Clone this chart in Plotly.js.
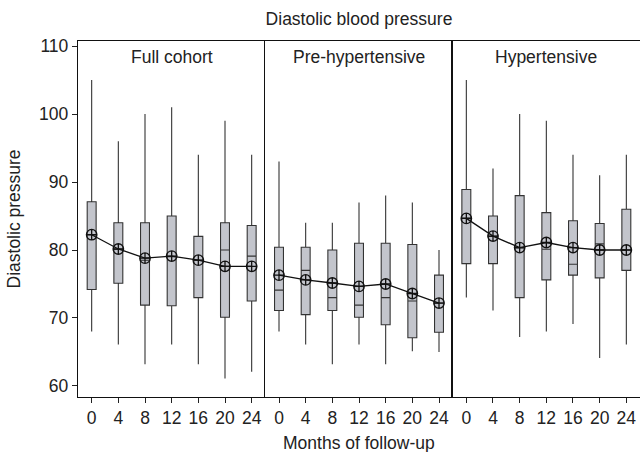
<!DOCTYPE html>
<html>
<head>
<meta charset="utf-8">
<script src="https://cdn.plot.ly/plotly-3.0.1.min.js"></script>
<style>html,body{margin:0;padding:0;background:#fff;}#chart{width:640px;height:452px;}</style>
</head>
<body>
<div id="chart"></div>
<script>
// Data
const months = [0, 4, 8, 12, 16, 20, 24];
const tickLabels = ["0", "4", "8", "12", "16", "20", "24"];
const panelNames = ["Full cohort", "Pre-hypertensive", "Hypertensive"];

// Full cohort
const fullLow    = [68, 66.1, 63.2, 66.1, 63.2, 61.1, 62.1];
const fullQ1     = [74.2, 75.1, 71.9, 71.8, 73, 70.1, 72.5];
const fullMedian = [82.2, 80.1, 78.5, 79, 78.5, 80, 79.1];
const fullQ3     = [87.1, 84, 84, 85, 82, 84, 83.6];
const fullHigh   = [105, 96, 100, 101, 94, 99, 94];
const fullMean   = [82.25, 80.15, 78.8, 79.1, 78.5, 77.6, 77.6];

// Pre-hypertensive
const preLow    = [68, 66.1, 63.2, 66.1, 63.2, 65.1, 65];
const preQ1     = [71.1, 70.5, 71.1, 70.1, 69, 67.1, 67.9];
const preMedian = [74.1, 77, 73, 71.9, 73, 72.5, 72.2];
const preQ3     = [80.4, 80.4, 80, 81, 81, 80.8, 76.3];
const preHigh   = [93, 84, 84, 87, 88, 87, 80];
const preMean   = [76.3, 75.6, 75.15, 74.65, 75, 73.6, 72.2];

// Hypertensive
const hypLow    = [73, 71.1, 67.2, 68, 69.1, 64.1, 66.1];
const hypQ1     = [78, 78, 73, 75.6, 76.3, 75.9, 77];
const hypMedian = [84.7, 82, 80.3, 80.1, 77.9, 80.9, 80];
const hypQ3     = [88.9, 85, 88, 85.5, 84.3, 83.9, 86];
const hypHigh   = [105, 92, 100, 99, 94, 91, 94];
const hypMean   = [84.65, 82.05, 80.35, 81.1, 80.35, 80, 80];

const groups = [
  {low: fullLow, q1: fullQ1, med: fullMedian, q3: fullQ3, high: fullHigh, mean: fullMean},
  {low: preLow, q1: preQ1, med: preMedian, q3: preQ3, high: preHigh, mean: preMean},
  {low: hypLow, q1: hypQ1, med: hypMedian, q3: hypQ3, high: hypHigh, mean: hypMean}
];

const FONT = "Liberation Sans, Arial, Helvetica, sans-serif";
const FS = 17.5;
const TXT = '#222';
const traces = [];
groups.forEach((g, i) => {
  const xa = i === 0 ? 'x' : 'x' + (i + 1);
  const ya = i === 0 ? 'y' : 'y' + (i + 1);
  traces.push({
    type: 'box', x: months, q1: g.q1, median: g.med, q3: g.q3,
    lowerfence: g.low, upperfence: g.high,
    xaxis: xa, yaxis: ya, width: 1.34, whiskerwidth: 0,
    boxpoints: false, fillcolor: '#c3c5cc',
    line: {color: '#333', width: 1.1}, showlegend: false, hoverinfo: 'skip'
  });
  traces.push({
    type: 'scatter', mode: 'lines+markers', x: months, y: g.mean,
    xaxis: xa, yaxis: ya,
    line: {color: '#111', width: 1.3},
    marker: {symbol: 'circle-cross-open', size: 10.5, color: '#111', line: {width: 1.3}},
    showlegend: false, hoverinfo: 'skip'
  });
});

const yRange = [58.38, 110.74];
const xRange = [-2.05, 26.05];
const layout = {
  width: 640, height: 452,
  margin: {l: 78, r: 0, t: 41, b: 55},
  paper_bgcolor: '#fff', plot_bgcolor: '#fff',
  font: {family: FONT, size: FS, color: TXT},
  title: {text: 'Diastolic blood pressure', font: {family: FONT, size: FS, color: TXT},
          x: 0.5, xref: 'paper', xanchor: 'center', y: 0.958, yanchor: 'middle'},
  annotations: [],
  showlegend: false
};
const third = 1 / 3;
for (let i = 0; i < 3; i++) {
  const sx = i === 0 ? '' : String(i + 1);
  layout['xaxis' + sx] = {
    domain: [i * third, (i + 1) * third], range: xRange,
    anchor: 'y' + sx, tickmode: 'array', tickvals: months, ticktext: tickLabels,
    ticks: 'outside', ticklen: 5, tickcolor: '#222', tickwidth: 1,
    showline: true, mirror: true, linecolor: '#111', linewidth: 1.2,
    showgrid: false, zeroline: false,
    tickfont: {family: FONT, size: FS, color: TXT}
  };
  layout['yaxis' + sx] = {
    range: yRange, anchor: 'x' + sx,
    tickvals: [60, 70, 80, 90, 100, 110],
    ticks: i === 0 ? 'outside' : '', ticklen: 5, tickcolor: '#222',
    showticklabels: i === 0,
    showline: true, mirror: false, linecolor: '#111', linewidth: 1.2,
    showgrid: false, zeroline: false,
    tickfont: {family: FONT, size: FS, color: TXT}
  };
  layout.annotations.push({
    text: panelNames[i], xref: 'paper', yref: 'paper',
    x: (i + 0.5) * third, y: 0.955, xanchor: 'center', yanchor: 'middle',
    showarrow: false, font: {family: FONT, size: FS, color: TXT}
  });
}
layout.annotations.push({
  text: 'Months of follow-up', xref: 'paper', yref: 'paper',
  x: 0.5, y: -0.128, xanchor: 'center', yanchor: 'middle',
  showarrow: false, font: {family: FONT, size: FS, color: TXT}
});
layout.annotations.push({
  text: 'Diastolic pressure', xref: 'paper', yref: 'paper',
  x: -0.113, y: 0.5, xanchor: 'center', yanchor: 'middle', textangle: -90,
  showarrow: false, font: {family: FONT, size: FS, color: TXT}
});

Plotly.newPlot('chart', traces, layout, {staticPlot: true, displayModeBar: false});
</script>
</body>
</html>
